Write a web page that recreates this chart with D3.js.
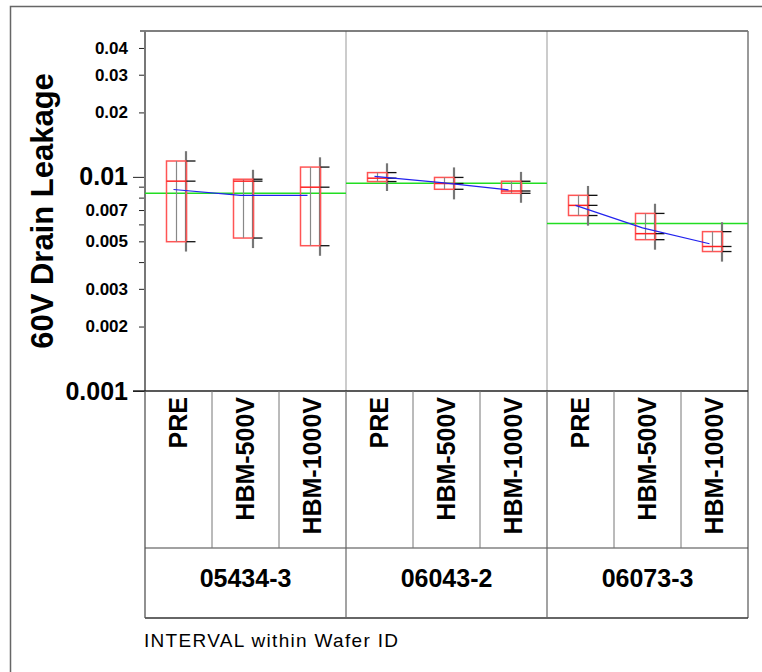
<!DOCTYPE html>
<html>
<head>
<meta charset="utf-8">
<script src="https://cdn.jsdelivr.net/npm/d3@7"></script>
<style>
  body { margin: 0; background: #fff; }
  text { font-family: "Liberation Sans", Arial, sans-serif; }
</style>
</head>
<body>
<svg id="chart" width="762" height="672"></svg>
<script>
// categories
var wafers = ['05434-3', '06043-2', '06073-3'];
var intervals = ['PRE', 'HBM-500V', 'HBM-1000V'];

// one value per cell, wafer by wafer, interval by interval
var q1Values     = [0.00498, 0.00518, 0.00477, 0.00951, 0.00875, 0.00838, 0.00660, 0.00509, 0.00448];
var medianValues = [0.00955, 0.00955, 0.00895, 0.00986, 0.00931, 0.00859, 0.00736, 0.00543, 0.00473];
var q3Values     = [0.01186, 0.00975, 0.01111, 0.01047, 0.00994, 0.00954, 0.00820, 0.00675, 0.00555];
var minValues    = [0.00448, 0.00465, 0.00428, 0.00859, 0.00785, 0.00757, 0.00592, 0.00457, 0.00402];
var maxValues    = [0.01318, 0.01079, 0.01234, 0.01157, 0.01107, 0.01055, 0.00907, 0.00749, 0.00614];
var meanValues   = [0.00873, 0.00820, 0.00820, 0.01005, 0.00941, 0.00869, 0.00736, 0.00578, 0.00487];

// grand mean of each wafer
var waferMeans = [0.00838, 0.00934, 0.00605];

// y ticks
var bigTicks = [0.001, 0.01];
var labelTicks = [0.002, 0.003, 0.005, 0.007, 0.02, 0.03, 0.04];
var minorTicks = [0.004, 0.006, 0.008, 0.009];

var svg = d3.select('#chart');

var plot = {l: 145, r: 748, t: 31, b: 391};
var table = {mid: 548, b: 618};

var y = d3.scaleLog()
    .domain([0.001, 0.048])
    .range([plot.b, plot.t]);

var xWafer = d3.scaleBand()
    .domain(wafers)
    .range([plot.l, plot.r]);

var xInterval = d3.scaleBand()
    .domain(intervals)
    .range([0, xWafer.bandwidth()]);

// build cell rows from the arrays
var cells = [];
wafers.forEach(function(w, wi) {
    intervals.forEach(function(iv, ii) {
        var k = wi * 3 + ii;
        cells.push({
            wafer: w, interval: iv,
            q1: q1Values[k], median: medianValues[k], q3: q3Values[k],
            min: minValues[k], max: maxValues[k], mean: meanValues[k]
        });
    });
});

function cx(d) {
    return xWafer(d.wafer) + xInterval(d.interval) + xInterval.bandwidth() / 2;
}

// outer frame
svg.append('path')
    .attr('d', 'M10.5,672 V6.5 H762')
    .attr('fill', 'none')
    .attr('stroke', '#666')
    .attr('stroke-width', 1.5);

// wafer dividers inside plot
svg.selectAll('.divider')
    .data(wafers.slice(1))
    .enter()
    .append('line')
    .attr('class', 'divider')
    .attr('x1', d => xWafer(d)).attr('x2', d => xWafer(d))
    .attr('y1', plot.t).attr('y2', plot.b)
    .attr('stroke', '#bbb')
    .attr('stroke-width', 1.5);

// plot borders
svg.append('line')
    .attr('x1', 140).attr('x2', plot.r)
    .attr('y1', plot.t).attr('y2', plot.t)
    .attr('stroke', '#555').attr('stroke-width', 1.5);
svg.append('line')
    .attr('x1', plot.r).attr('x2', plot.r)
    .attr('y1', plot.t).attr('y2', table.b)
    .attr('stroke', '#777').attr('stroke-width', 1.5);

// y axis
var allTicks = bigTicks.concat(labelTicks, minorTicks);
var yAxis = d3.axisLeft(y)
    .tickValues(allTicks)
    .tickSize(6)
    .tickPadding(11)
    .tickFormat(function(d) {
        return minorTicks.indexOf(d) >= 0 ? '' : String(+d.toFixed(3));
    });

var axisG = svg.append('g')
    .attr('transform', 'translate(' + plot.l + ',0)')
    .call(yAxis);
axisG.select('.domain').remove();
axisG.selectAll('.tick line').attr('stroke', '#222');
axisG.selectAll('.tick')
    .filter(d => bigTicks.indexOf(d) >= 0)
    .select('line').attr('x2', -12);
axisG.selectAll('.tick text')
    .attr('fill', '#000')
    .style('font-weight', 'bold')
    .style('font-size', d => bigTicks.indexOf(d) >= 0 ? '25px' : '17px')
    .attr('x', -17);

svg.append('line')
    .attr('x1', plot.l).attr('x2', plot.l)
    .attr('y1', plot.t).attr('y2', plot.b)
    .attr('stroke', '#777').attr('stroke-width', 2);

svg.append('text')
    .attr('transform', 'translate(53,211) rotate(-90)')
    .attr('text-anchor', 'middle')
    .style('font-size', '31px')
    .style('font-weight', 'bold')
    .text('60V Drain Leakage');

// wafer grand mean lines
svg.selectAll('.grand')
    .data(wafers)
    .enter()
    .append('line')
    .attr('class', 'grand')
    .attr('x1', d => xWafer(d)).attr('x2', d => xWafer(d) + xWafer.bandwidth())
    .attr('y1', (d, i) => y(waferMeans[i])).attr('y2', (d, i) => y(waferMeans[i]))
    .attr('stroke', '#22dd22')
    .attr('stroke-width', 1.5);

// range lines (min to max)
svg.selectAll('.range')
    .data(cells)
    .enter()
    .append('line')
    .attr('class', 'range')
    .attr('x1', d => cx(d) + 7.5).attr('x2', d => cx(d) + 7.5)
    .attr('y1', d => y(d.min)).attr('y2', d => y(d.max))
    .attr('stroke', '#777')
    .attr('stroke-width', 2.2);

// quartile boxes
svg.selectAll('.box')
    .data(cells)
    .enter()
    .append('rect')
    .attr('class', 'box')
    .attr('x', d => cx(d) - 12)
    .attr('width', 20)
    .attr('y', d => y(d.q3))
    .attr('height', d => y(d.q1) - y(d.q3))
    .attr('fill', 'none')
    .attr('stroke', '#ff5555')
    .attr('stroke-width', 1.5);

svg.selectAll('.inner')
    .data(cells)
    .enter()
    .append('line')
    .attr('class', 'inner')
    .attr('x1', d => cx(d) - 2).attr('x2', d => cx(d) - 2)
    .attr('y1', d => y(d.q3)).attr('y2', d => y(d.q1))
    .attr('stroke', '#888')
    .attr('stroke-width', 1.2);

svg.selectAll('.median')
    .data(cells)
    .enter()
    .append('line')
    .attr('class', 'median')
    .attr('x1', d => cx(d) - 12).attr('x2', d => cx(d) + 8)
    .attr('y1', d => y(d.median)).attr('y2', d => y(d.median))
    .attr('stroke', '#ff2222')
    .attr('stroke-width', 1.5);

// black ticks at the quartiles and median
var tickData = [];
cells.forEach(function(d) {
    [d.q1, d.median, d.q3].forEach(function(v) { tickData.push({c: d, v: v}); });
});
svg.selectAll('.qtick')
    .data(tickData)
    .enter()
    .append('line')
    .attr('class', 'qtick')
    .attr('x1', d => cx(d.c) + 8).attr('x2', d => cx(d.c) + 17)
    .attr('y1', d => y(d.v)).attr('y2', d => y(d.v))
    .attr('stroke', '#111')
    .attr('stroke-width', 1.3);

// mean lines within each wafer
var meanLine = d3.line()
    .x(d => cx(d) - 5)
    .y(d => y(d.mean));
svg.selectAll('.meanline')
    .data(wafers)
    .enter()
    .append('path')
    .attr('class', 'meanline')
    .attr('d', w => meanLine(cells.filter(c => c.wafer === w)))
    .attr('fill', 'none')
    .attr('stroke', '#2222ee')
    .attr('stroke-width', 1.2);

// category table
svg.append('line')
    .attr('x1', 133).attr('x2', plot.r)
    .attr('y1', plot.b).attr('y2', plot.b)
    .attr('stroke', '#222').attr('stroke-width', 1.3);
svg.append('line')
    .attr('x1', plot.l).attr('x2', plot.r)
    .attr('y1', table.mid).attr('y2', table.mid)
    .attr('stroke', '#444').attr('stroke-width', 1.2);
svg.append('line')
    .attr('x1', plot.l).attr('x2', plot.r)
    .attr('y1', table.b).attr('y2', table.b)
    .attr('stroke', '#333').attr('stroke-width', 1.3);
svg.append('line')
    .attr('x1', plot.l).attr('x2', plot.l)
    .attr('y1', plot.b).attr('y2', table.b)
    .attr('stroke', '#555').attr('stroke-width', 1.3);

svg.selectAll('.wsep')
    .data(wafers.slice(1))
    .enter()
    .append('line')
    .attr('class', 'wsep')
    .attr('x1', d => xWafer(d)).attr('x2', d => xWafer(d))
    .attr('y1', plot.b).attr('y2', table.b)
    .attr('stroke', '#666').attr('stroke-width', 1.2);

svg.selectAll('.isep')
    .data(cells.filter(c => c.interval !== intervals[0]))
    .enter()
    .append('line')
    .attr('class', 'isep')
    .attr('x1', d => xWafer(d.wafer) + xInterval(d.interval))
    .attr('x2', d => xWafer(d.wafer) + xInterval(d.interval))
    .attr('y1', plot.b).attr('y2', table.mid)
    .attr('stroke', '#777').attr('stroke-width', 1);

svg.selectAll('.ilabel')
    .data(cells)
    .enter()
    .append('text')
    .attr('class', 'ilabel')
    .attr('transform', d => 'translate(' + (cx(d) + 8.5) + ',' + (plot.b + 6) + ') rotate(-90)')
    .attr('text-anchor', 'end')
    .style('font-size', '25px')
    .style('font-weight', 'bold')
    .text(d => d.interval);

svg.selectAll('.wlabel')
    .data(wafers)
    .enter()
    .append('text')
    .attr('class', 'wlabel')
    .attr('x', d => xWafer(d) + xWafer.bandwidth() / 2)
    .attr('y', 587)
    .attr('text-anchor', 'middle')
    .style('font-size', '25px')
    .style('font-weight', 'bold')
    .text(d => d);

svg.append('text')
    .attr('x', 144)
    .attr('y', 647)
    .style('font-size', '19px')
    .attr('textLength', 254)
    .attr('lengthAdjust', 'spacing')
    .text('INTERVAL within Wafer ID');
</script>
</body>
</html>
